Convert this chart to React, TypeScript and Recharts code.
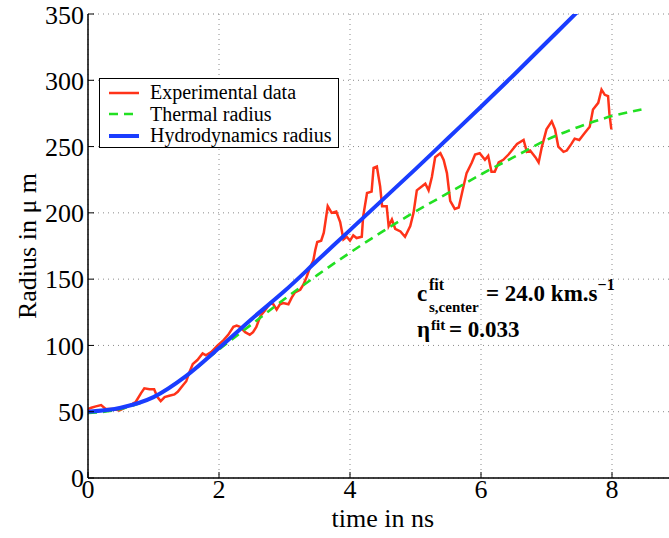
import { LineChart, Line, XAxis, YAxis, CartesianGrid, Legend } from "recharts";

// experimental radius (µm) vs time (ns)
const expTime = [
  0, 0.05, 0.12, 0.2, 0.27, 0.38, 0.48, 0.58, 0.68, 0.73, 0.81, 0.86, 0.94, 1.01, 1.06, 1.11, 1.17, 1.24,
  1.32, 1.37, 1.45, 1.5, 1.55, 1.6, 1.67, 1.75, 1.8, 1.88, 1.98, 2.07, 2.14, 2.22, 2.27, 2.32, 2.4, 2.47,
  2.52, 2.57, 2.63, 2.71, 2.78, 2.83, 2.88, 2.93, 2.98, 3.06, 3.11, 3.16, 3.24, 3.29, 3.34, 3.39, 3.44,
  3.47, 3.5, 3.56, 3.6, 3.66, 3.72, 3.79, 3.85, 3.9, 3.95, 4.0, 4.05, 4.1, 4.18, 4.2, 4.26, 4.33, 4.36,
  4.41, 4.46, 4.49, 4.56, 4.59, 4.64, 4.69, 4.77, 4.84, 4.92, 4.97, 5.02, 5.1, 5.15, 5.2, 5.25, 5.3,
  5.38, 5.43, 5.48, 5.53, 5.6, 5.66, 5.71, 5.78, 5.86, 5.91, 5.98, 6.06, 6.11, 6.16, 6.21, 6.27, 6.34,
  6.42, 6.47, 6.55, 6.65, 6.7, 6.75, 6.83, 6.88, 6.93, 7.0, 7.08, 7.13, 7.18, 7.26, 7.31, 7.38, 7.43,
  7.5, 7.58, 7.66, 7.71, 7.79, 7.84, 7.89, 7.94, 7.96, 7.99,
];
const expRadius = [
  52, 53, 54, 55, 52, 52, 51, 53.5, 56, 57.5, 64, 67.6, 67, 67, 61, 58, 61, 62,
  63, 65, 70, 73, 80, 86, 89, 94, 92.6, 95, 100, 104, 108, 114, 115, 114, 110, 108,
  110, 114, 122, 127, 132, 131, 127, 131, 132, 131, 136, 140, 142, 146, 152, 159, 164,
  172, 178, 179, 185, 205, 200, 201, 193, 180, 182, 179, 183, 181, 182, 197, 215, 216, 234,
  235, 220, 205, 205, 190, 195, 188, 186, 182, 190, 200, 217, 220, 222, 217, 227, 242,
  245, 240, 230, 209, 203, 204, 215, 230, 238, 244, 245, 240, 243, 231, 231, 238, 240,
  244, 247, 252, 255, 246, 247, 242, 238, 250, 263, 269, 263, 250, 246, 247, 252, 256,
  255, 260, 265, 278, 283, 293, 289, 288, 275, 263,
];

const thermalTime = [0, 0.5, 1, 1.5, 2, 2.5, 3, 3.5, 4, 4.5, 5, 5.5, 6, 6.5, 7, 7.5, 8, 8.45];
const thermalRadius = [49, 52, 61, 77, 97, 116, 135, 153, 170, 186, 201, 215, 229, 242, 255, 265, 273, 278];

const hydroTime = [0, 0.5, 1, 1.5, 2, 2.5, 3, 3.5, 4, 4.5, 5, 5.5, 6, 6.5, 7, 7.5, 7.7];
const hydroRadius = [50, 53, 61, 77, 98, 120, 141, 164, 187, 210, 233, 256.5, 280, 304, 328.5, 353, 363];

const xTicks = [0, 2, 4, 6, 8];
const yTicks = [0, 50, 100, 150, 200, 250, 300, 350];

const SERIF = "Liberation Serif";

const SERIES = [
  { name: "Experimental data", color: "#ff3319", width: 2.5, dash: undefined },
  { name: "Thermal radius", color: "#22e022", width: 2.6, dash: "9 6" },
  { name: "Hydrodynamics radius", color: "#1a3dff", width: 4, dash: undefined },
];

const toPoints = (ts: number[], rs: number[]) => ts.map((t, i) => ({ t, r: rs[i] }));
const expData = toPoints(expTime, expRadius);
const thermalData = toPoints(thermalTime, thermalRadius);
const hydroData = toPoints(hydroTime, hydroRadius);

const tickStyle = { fill: "#000", fontSize: 26, fontFamily: SERIF };

function BoxLegend() {
  return (
    <div
      style={{
        boxSizing: "border-box",
        width: 240,
        height: 70,
        border: "1.5px solid #000",
        background: "#fff",
        paddingTop: 3,
        fontFamily: SERIF,
        fontSize: 20,
        color: "#000",
      }}
    >
      {SERIES.map((s) => (
        <div key={s.name} style={{ display: "flex", alignItems: "center", height: 21.5, lineHeight: "21.5px" }}>
          <svg width={50} height={10} style={{ flex: "none" }}>
            <line x1={9} x2={39} y1={5} y2={5} stroke={s.color} strokeWidth={s.width} strokeDasharray={s.dash} />
          </svg>
          <span style={{ whiteSpace: "nowrap" }}>{s.name}</span>
        </div>
      ))}
    </div>
  );
}

const yLabel = (props: any) => {
  const vb = props.viewBox;
  const x = vb.x + 19;
  const y = vb.y + vb.height / 2;
  return (
    <text x={x} y={y} transform={`rotate(-90, ${x}, ${y})`} textAnchor="middle" dominantBaseline="central"
      fill="#000" fontSize={26} style={{ fontFamily: SERIF }}>
      Radius in μ m
    </text>
  );
};

const xLabel = (props: any) => {
  const vb = props.viewBox;
  return (
    <text x={vb.x + vb.width / 2} y={vb.y + 49} textAnchor="middle" fill="#000" fontSize={26}
      style={{ fontFamily: SERIF }}>
      time in ns
    </text>
  );
};

export default function App() {
  return (
    <div style={{ position: "absolute", left: 0, top: 0, width: 669, height: 538, overflow: "hidden",
      background: "#fff", fontFamily: SERIF }}>
      <LineChart width={700} height={538} margin={{ top: 14, right: 22.5, bottom: 0, left: 8 }}>
        <CartesianGrid stroke="#8a8a8a" strokeDasharray="1 4" />
        <XAxis
          type="number"
          dataKey="t"
          domain={[0, 9]}
          ticks={xTicks}
          allowDataOverflow
          height={60}
          tickSize={-6}
          tickMargin={8}
          tick={tickStyle}
          axisLine={{ stroke: "#000", strokeWidth: 1.5 }}
          tickLine={{ stroke: "#000" }}
          label={{ content: xLabel }}
        />
        <XAxis
          xAxisId="top"
          orientation="top"
          type="number"
          dataKey="t"
          domain={[0, 9]}
          ticks={xTicks}
          allowDataOverflow
          height={0}
          tickSize={-6}
          tick={false}
          axisLine={{ stroke: "#000", strokeWidth: 1.5 }}
          tickLine={{ stroke: "#000" }}
        />
        <YAxis
          type="number"
          domain={[0, 350]}
          ticks={yTicks}
          allowDataOverflow
          width={80}
          tickSize={-6}
          tickMargin={10}
          tick={tickStyle}
          axisLine={{ stroke: "#000", strokeWidth: 1.5 }}
          tickLine={{ stroke: "#000" }}
          label={{ content: yLabel }}
        />
        <Legend
          layout="horizontal"
          verticalAlign="middle"
          align="center"
          content={() => <BoxLegend />}
          wrapperStyle={{ left: 99, top: 78, width: 240, height: 70 }}
        />
        <Line data={expData} dataKey="r" name={SERIES[0].name} type="linear" stroke={SERIES[0].color}
          strokeWidth={SERIES[0].width} dot={false} isAnimationActive={false} />
        <Line data={thermalData} dataKey="r" name={SERIES[1].name} type="monotone" stroke={SERIES[1].color}
          strokeWidth={SERIES[1].width} strokeDasharray={SERIES[1].dash} dot={false} isAnimationActive={false} />
        <Line data={hydroData} dataKey="r" name={SERIES[2].name} type="monotone" stroke={SERIES[2].color}
          strokeWidth={SERIES[2].width} dot={false} isAnimationActive={false} />
      </LineChart>
      <svg width={669} height={538} style={{ position: "absolute", left: 0, top: 0, pointerEvents: "none",
        fontFamily: SERIF, fontWeight: "bold" }} fill="#000">
        <text x={417} y={301} fontSize={23}>c</text>
        <text x={429} y={290} fontSize={16}>fit</text>
        <text x={429} y={312} fontSize={15}>s,center</text>
        <text x={486} y={301} fontSize={23}>
          = 24.0 km.s<tspan dy={-11} fontSize={16}>−1</tspan>
        </text>
        <text x={417} y={337} fontSize={23}>η</text>
        <text x={431} y={330} fontSize={15}>fit</text>
        <text x={449} y={337} fontSize={23}>= 0.033</text>
      </svg>
    </div>
  );
}
